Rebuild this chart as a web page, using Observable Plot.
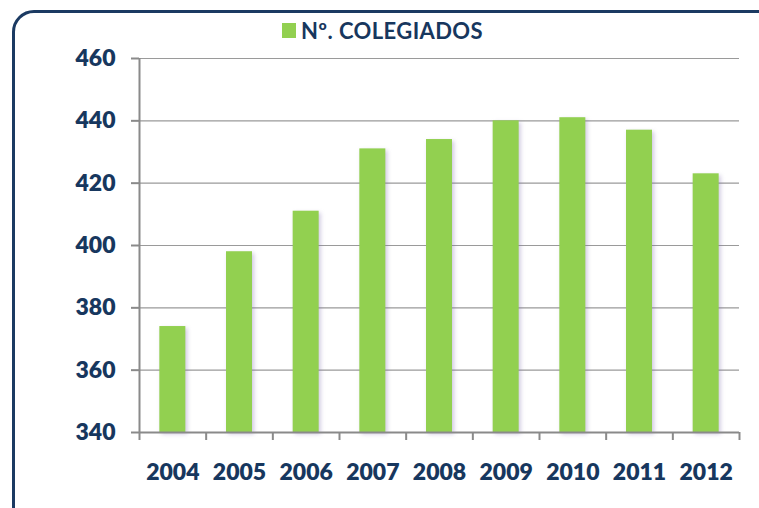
<!DOCTYPE html>
<html>
<head>
<meta charset="utf-8">
<script src="https://cdn.jsdelivr.net/npm/d3@7"></script>
<script src="https://cdn.jsdelivr.net/npm/@observablehq/plot@0.6"></script>
<style>
  html, body { margin: 0; padding: 0; background: #fff; }
  #wrap { position: relative; width: 759px; height: 508px; overflow: hidden; background: #fff; font-family: Lato, "Open Sans", sans-serif; }
  #frame { position: absolute; left: 12px; top: 10px; width: 770px; height: 520px; border: 3.5px solid #1b3a62; border-radius: 22px; box-sizing: border-box; }
  #legend { position: absolute; left: 282px; top: 18px; height: 24px; display: flex; align-items: center; color: #17375e; font-weight: 700; font-size: 22px; letter-spacing: 0.4px; }
  #legend .sw { width: 14px; height: 15px; background: #92d050; margin-right: 5px; }
  #chart { position: absolute; left: 0; top: 0; }
  #chart svg g[aria-label="rect"] rect { filter: drop-shadow(2px 2px 2px rgba(120,100,170,0.35)); }
</style>
</head>
<body>
<div id="wrap">
  <div id="chart"></div>
  <div id="frame"></div>
  <div id="legend"><div class="sw"></div><span id="legendText"></span></div>
</div>
<script>
const seriesName = "Nº. COLEGIADOS";
const years = [2004, 2005, 2006, 2007, 2008, 2009, 2010, 2011, 2012];
const colegiados = [374, 398, 411, 431, 434, 440, 441, 437, 423];
const yTicks = [340, 360, 380, 400, 420, 440, 460];

document.getElementById("legendText").textContent = seriesName;

const data = years.map((y, i) => ({year: y, value: colegiados[i]}));
const half = 0.195;
const xMin = years[0] - 0.5, xMax = years[years.length - 1] + 0.5;
const boundaries = [...years.map(y => y - 0.5), xMax];
const yBase = yTicks[0];
const navy = "#17375e";

const chart = Plot.plot({
  width: 759,
  height: 508,
  marginLeft: 139,
  marginRight: 20,
  marginTop: 58,
  marginBottom: 76,
  style: {background: "transparent", fontFamily: "Lato, 'Open Sans', sans-serif"},
  x: {type: "linear", domain: [xMin, xMax]},
  y: {domain: [yTicks[0], yTicks[yTicks.length - 1]]},
  marks: [
    Plot.gridY(yTicks, {stroke: "#9a9a9a", strokeOpacity: 1, strokeWidth: 1.2}),
    Plot.rectY(data, {x1: d => d.year - half, x2: d => d.year + half, y1: yBase, y2: "value", fill: "#92d050"}),
    Plot.ruleX([xMin], {stroke: "#8a8a8a", strokeWidth: 2}),
    Plot.ruleY([yBase], {stroke: "#8a8a8a", strokeWidth: 2}),
    Plot.axisY(yTicks, {tickSize: 8, tickPadding: 16, stroke: "#8a8a8a", strokeWidth: 2, fill: navy, fontSize: 23, fontWeight: 800, label: null}),
    Plot.axisX(boundaries, {tickSize: 8, stroke: "#8a8a8a", strokeWidth: 2, tickFormat: () => "", label: null}),
    Plot.axisX(years, {tickSize: 0, tickPadding: 31, fill: navy, fontSize: 23, fontWeight: 800, tickFormat: d => String(d), label: null})
  ]
});
document.getElementById("chart").appendChild(chart);
</script>
</body>
</html>
